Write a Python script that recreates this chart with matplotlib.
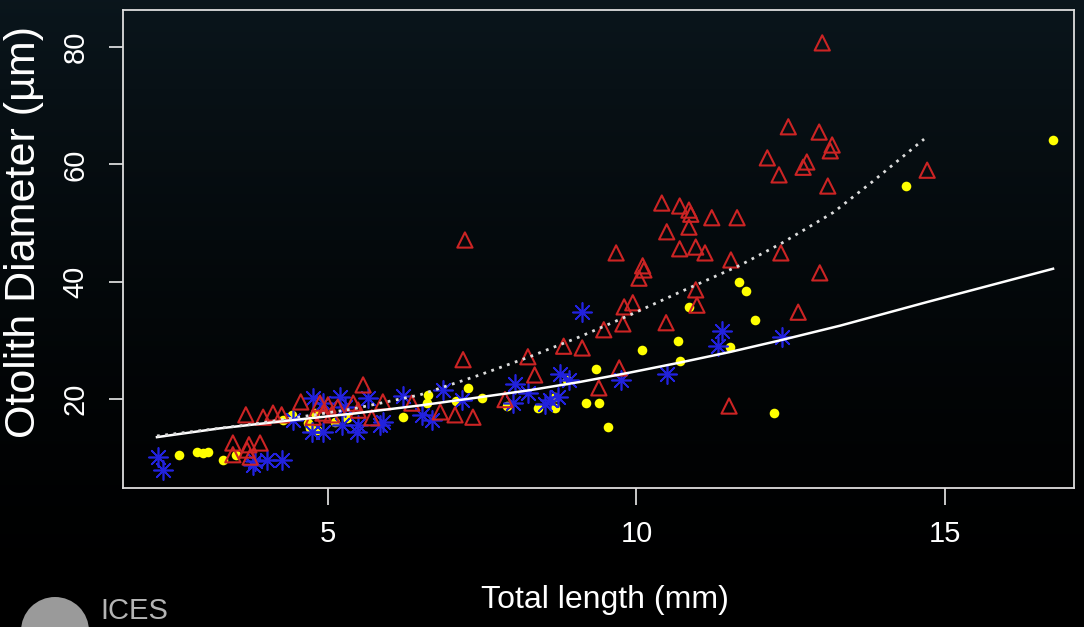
import numpy as np
import matplotlib
matplotlib.use("Agg")
import matplotlib.pyplot as plt
from matplotlib.patches import Circle
from matplotlib.transforms import IdentityTransform

plt.rcParams['font.family'] = ['Liberation Sans', 'DejaVu Sans']

# red open triangles
tri_x = [13.01, 12.46, 12.96, 13.17, 13.14, 12.12, 12.76, 12.70, 12.31, 13.10,
         14.71, 10.41, 10.70, 10.85, 10.88, 11.22, 11.63, 10.85, 10.49, 10.70,
         10.96, 11.11, 11.53, 12.34, 9.67, 10.10, 10.12, 10.04, 9.94, 9.80,
         9.78, 10.96, 10.98, 10.48, 9.47, 8.82, 9.12, 9.72, 9.39, 11.50,
         12.97, 12.62, 7.22, 7.19, 8.24, 8.35, 7.87, 7.06, 7.35, 6.82,
         6.36, 5.57, 4.56, 4.87, 5.00, 5.16, 5.41, 5.89, 5.49, 5.71,
         4.11, 4.25, 4.92, 4.76, 5.06, 3.67, 3.95, 3.46, 3.72, 3.90,
         3.46, 3.69, 3.74]
tri_y = [80.7, 66.4, 65.5, 63.3, 62.3, 61.1, 60.4, 59.5, 58.2, 56.3,
         59.0, 53.4, 52.9, 52.2, 51.5, 50.9, 50.9, 49.3, 48.5, 45.6,
         45.9, 44.9, 43.7, 44.9, 44.9, 42.7, 42.0, 40.6, 36.4, 35.7,
         32.8, 38.6, 36.0, 33.0, 31.8, 29.0, 28.7, 25.3, 21.9, 18.8,
         41.5, 34.8, 47.1, 26.7, 27.2, 24.1, 19.9, 17.3, 16.9, 17.8,
         19.3, 22.4, 19.5, 19.3, 19.0, 18.6, 19.3, 19.5, 18.1, 16.8,
         17.6, 17.3, 17.6, 16.9, 17.3, 17.3, 16.9, 12.5, 12.2, 12.5,
         10.5, 11.3, 10.1]

# blue asterisks
ast_x = [9.12, 8.76, 8.91, 8.52, 8.60, 8.73, 9.75, 10.49, 11.39, 11.32,
         12.36, 8.03, 8.24, 8.00, 6.22, 6.52, 6.69, 6.86, 7.17, 4.76,
         4.92, 5.19, 5.28, 5.23, 4.92, 4.74, 5.49, 5.47, 5.84, 5.89,
         5.65, 4.25, 2.25, 2.33, 3.78, 3.82, 4.01, 4.43]
ast_y = [34.8, 24.3, 23.2, 19.1, 19.8, 20.3, 23.3, 24.3, 31.6, 29.0,
         30.6, 22.6, 21.0, 19.3, 20.5, 17.3, 16.4, 21.5, 19.8, 20.2,
         19.3, 20.3, 18.6, 15.6, 14.4, 14.4, 15.6, 14.4, 15.6, 16.1,
         20.2, 9.6, 10.1, 7.9, 8.7, 9.4, 9.6, 16.4]

# yellow dots
dot_x = [2.59, 2.88, 2.97, 3.06, 3.30, 3.51, 4.27, 4.42, 4.68, 4.71,
         4.82, 5.11, 5.31, 4.79, 6.22, 6.60, 6.62, 7.27, 7.07, 7.50,
         7.90, 8.41, 8.68, 8.68, 8.87, 9.34, 9.18, 9.39, 9.54, 10.09,
         10.67, 10.71, 10.85, 11.52, 11.66, 11.78, 11.92, 12.23, 14.37, 16.75]
dot_y = [10.45, 10.96, 10.79, 10.96, 9.6, 10.45, 16.4, 17.3, 15.9, 15.1,
         14.7, 16.1, 16.8, 17.6, 16.9, 19.3, 20.7, 21.9, 19.7, 20.2,
         18.8, 18.5, 18.5, 20.3, 23.2, 25.1, 19.3, 19.3, 15.2, 28.4,
         29.9, 26.5, 35.7, 28.9, 40.0, 38.4, 33.5, 17.6, 56.3, 64.2]

# fitted curves
fit_x = [2.23, 3.25, 4.34, 5.40, 6.49, 7.46, 8.27, 9.08, 9.89, 10.70, 11.51,
         12.33, 13.30, 14.70, 16.75]
fit_y = [13.5, 15.0, 16.3, 17.5, 18.9, 20.3, 21.5, 22.9, 24.5, 26.2, 28.0,
         30.0, 32.5, 36.5, 42.2]
dot_fit_x = [2.23, 3.78, 5.40, 6.49, 7.46, 8.27, 9.08, 9.89, 10.70, 11.68,
             12.36, 13.19, 13.83, 14.66]
dot_fit_y = [13.7, 15.7, 18.3, 20.7, 24.1, 27.2, 30.6, 34.3, 38.2, 42.8,
             46.6, 51.8, 57.1, 64.3]

fig = plt.figure(figsize=(10.84, 6.27), dpi=100)

# dark gradient background
bg = fig.add_axes([0, 0, 1, 1])
grad = np.linspace(1, 0, 256) ** 1.6
col = np.stack([grad * 0.04, grad * 0.085, grad * 0.11], axis=-1)[:, None, :]
bg.imshow(col, aspect='auto', extent=[0, 1, 0, 1])
bg.axis('off')

ax = fig.add_axes([0.1135, 0.2217, 0.8773, 0.7623])
ax.set_facecolor('none')

ax.scatter(dot_x, dot_y, s=48, c='#ffff00', marker='o', linewidths=0, zorder=3)
ax.scatter(ast_x, ast_y, s=190, c='#2222dd', marker=(8, 2, 0), linewidths=1.2, zorder=3)
ax.scatter(tri_x, tri_y, s=120, facecolors='none', edgecolors='#cc2424',
           marker='^', linewidths=1.5, zorder=4)

ax.plot(fit_x, fit_y, color='white', lw=1.8, zorder=5)
ax.plot(dot_fit_x, dot_fit_y, color='#dddddd', lw=2.0, linestyle=(0, (1, 2.0)), zorder=5)

ax.set_xlim(1.68, 17.09)
ax.set_ylim(4.83, 86.3)
ax.set_xticks([5, 10, 15])
ax.set_yticks([20, 40, 60, 80])

for s in ax.spines.values():
    s.set_color('#dddddd')
    s.set_linewidth(1.3)

ax.tick_params(axis='x', colors='white', length=12, width=1.1, pad=11, labelsize=21)
ax.tick_params(axis='y', colors='white', length=10, width=1.1, pad=14, labelsize=21)
for lab in ax.get_yticklabels():
    lab.set_rotation(90)
    lab.set_va('center')

ax.set_xlabel('Total length (mm)', color='white', fontsize=23)
ax.set_ylabel('Otolith Diameter (\u00b5m)', color='white', fontsize=31)
ax.xaxis.set_label_coords(0.507, -0.203)
ax.yaxis.set_label_coords(-0.083, 0.535)

# ICES logo at bottom-left
fig.patches.append(Circle((55, -4), 34, transform=IdentityTransform(),
                          facecolor='#9a9a9a', edgecolor='none'))
fig.text(100 / 1084, 2 / 627, 'ICES', color='#b4b4b4', fontsize=21,
         ha='left', va='bottom')

fig.savefig('out.png', dpi=100, facecolor='black')
